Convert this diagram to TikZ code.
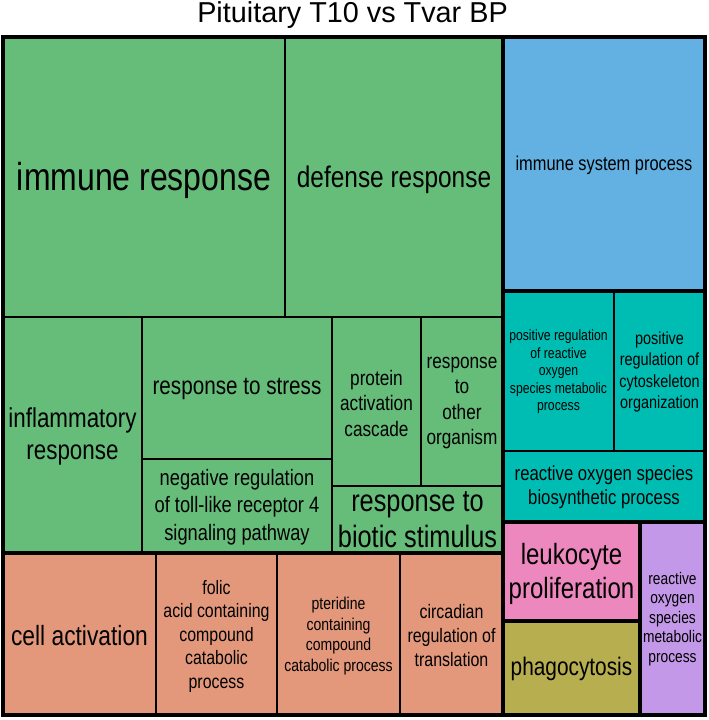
\documentclass[tikz,border=0pt]{standalone}
\usepackage{fontspec}
\setmainfont{Liberation Sans}
\newfontfamily\tilefont{Liberation Sans}[FakeStretch=0.82]
\definecolor{cgreen}{RGB}{102,189,122}
\definecolor{cblue}{RGB}{99,177,226}
\definecolor{cteal}{RGB}{0,189,180}
\definecolor{corange}{RGB}{227,152,124}
\definecolor{cpink}{RGB}{236,136,190}
\definecolor{colive}{RGB}{183,174,80}
\definecolor{cpurple}{RGB}{196,152,232}
\newcommand{\fs}[2]{\tilefont\fontsize{#1}{#2}\selectfont}

\begin{document}
\begin{tikzpicture}[x=1pt,y=-1pt]
\tikzstyle{tile}=[draw, line width=1.2pt]
\tikzstyle{group}=[draw, line width=4pt]
\tikzstyle{term}=[align=center, inner sep=0pt]
\useasboundingbox (0,0) rectangle (709,720);

\node[term, anchor=base, font=\fontsize{28.8}{34}\selectfont] (title) at (352.5,22.7) {Pituitary T10 vs Tvar BP};

% green group
\draw[tile, fill=cgreen] (3,37) rectangle (285,317);
\draw[tile, fill=cgreen] (285,37) rectangle (503,317);
\draw[tile, fill=cgreen] (3,317) rectangle (142,553);
\draw[tile, fill=cgreen] (142,317) rectangle (332,459);
\draw[tile, fill=cgreen] (142,459) rectangle (332,553);
\draw[tile, fill=cgreen] (332,317) rectangle (421,486);
\draw[tile, fill=cgreen] (421,317) rectangle (503,486);
\draw[tile, fill=cgreen] (332,486) rectangle (503,553);
\node[term, font=\fs{39}{45}] (immune) at (144,180) {immune response};
\node[term, font=\fs{29.8}{34}] (defense) at (394,180) {defense response};
\node[term, font=\fs{27.3}{32}] (inflam) at (72.5,436) {inflammatory\\response};
\node[term, font=\fs{25.2}{30}] (stress) at (237,389) {response to stress};
\node[term, font=\fs{22.3}{27.5}] (negreg) at (237,507) {negative regulation\\of toll-like receptor 4\\signaling pathway};
\node[term, font=\fs{21}{25.5}] (protein) at (376.5,403) {protein\\activation\\cascade};
\node[term, font=\fs{21}{25.5}] (other) at (462,403) {response\\to\\other\\organism};
\node[term, font=\fs{30.9}{36}] (biotic) at (417.5,520) {response to\\biotic stimulus};

% blue group
\draw[tile, fill=cblue] (503,37) rectangle (705,291);
\node[term, font=\fs{20}{24}] (immsys) at (604,165) {immune system process};

% teal group
\draw[tile, fill=cteal] (503,291) rectangle (614,451);
\draw[tile, fill=cteal] (614,291) rectangle (705,451);
\draw[tile, fill=cteal] (503,451) rectangle (705,522);
\node[term, font=\fs{14.9}{17.5}] (posros) at (558.5,372) {positive regulation\\of reactive\\oxygen\\species metabolic\\process};
\node[term, font=\fs{17.6}{21.5}] (cyto) at (659.5,372) {positive\\regulation of\\cytoskeleton\\organization};
\node[term, font=\fs{20.4}{23.5}] (rosbio) at (604,487) {reactive oxygen species\\biosynthetic process};

% pink, olive, purple groups
\draw[tile, fill=cpink] (503,522) rectangle (640,621);
\draw[tile, fill=colive] (503,621) rectangle (640,715);
\draw[tile, fill=cpurple] (640,522) rectangle (705,715);
\node[term, font=\fs{29.3}{34}] (leuko) at (571.5,574) {leukocyte\\proliferation};
\node[term, font=\fs{25.4}{30}] (phago) at (571.5,669) {phagocytosis};
\node[term, font=\fs{16.8}{19.5}] (rosmet) at (672.5,619) {reactive\\oxygen\\species\\metabolic\\process};

% orange group
\draw[tile, fill=corange] (3,553) rectangle (156,715);
\draw[tile, fill=corange] (156,553) rectangle (277,715);
\draw[tile, fill=corange] (277,553) rectangle (400,715);
\draw[tile, fill=corange] (400,553) rectangle (503,715);
\node[term, font=\fs{27.8}{32}] (cellact) at (79.5,636) {cell activation};
\node[term, font=\fs{19.4}{23.5}] (folic) at (216.5,636) {folic\\acid containing\\compound\\catabolic\\process};
\node[term, font=\fs{17.1}{20.5}] (pteri) at (338.5,636) {pteridine\\containing\\compound\\catabolic process};
\node[term, font=\fs{19.5}{24}] (circ) at (451.5,636) {circadian\\regulation of\\translation};

% group borders
\draw[group] (3,37) rectangle (503,553);
\draw[group] (503,37) rectangle (705,291);
\draw[group] (503,291) rectangle (705,522);
\draw[group] (503,522) rectangle (640,621);
\draw[group] (503,621) rectangle (640,715);
\draw[group] (640,522) rectangle (705,715);
\draw[group] (3,553) rectangle (503,715);
  \end{tikzpicture}
\end{document}
